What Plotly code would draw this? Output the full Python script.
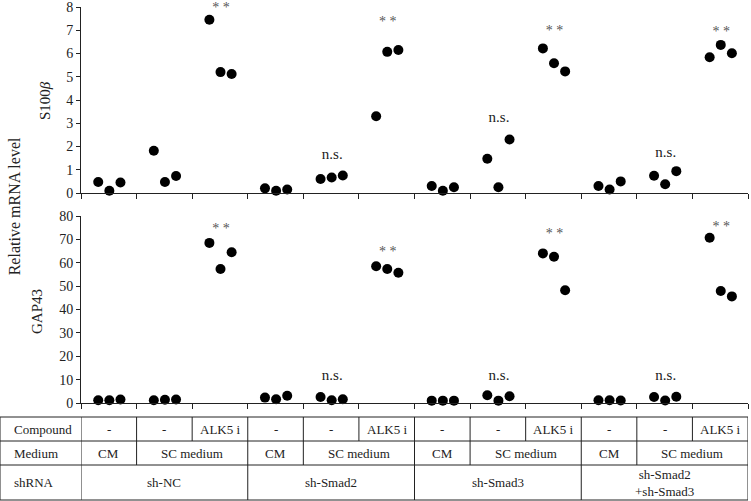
import plotly.graph_objects as go

# ---------------- data ----------------
shrna = ["sh-NC", "sh-Smad2", "sh-Smad3", "sh-Smad2<br>+sh-Smad3"]
medium = ["CM", "SC medium", "SC medium"]
compound = ["-", "-", "ALK5 i"]

s100b = [[0.47, 0.10, 0.45], [1.82, 0.47, 0.73], [7.45, 5.20, 5.12],
         [0.20, 0.10, 0.15], [0.60, 0.67, 0.75], [3.30, 6.07, 6.15],
         [0.30, 0.10, 0.25], [1.47, 0.25, 2.30], [6.22, 5.58, 5.23],
         [0.30, 0.15, 0.50], [0.74, 0.38, 0.94], [5.84, 6.37, 6.01]]
gap43 = [[1.2, 1.2, 1.5], [1.2, 1.4, 1.5], [68.5, 57.3, 64.5],
         [2.3, 1.6, 3.1], [2.6, 1.2, 1.6], [58.5, 57.3, 55.7],
         [1.0, 1.0, 1.0], [3.3, 1.0, 2.9], [64.0, 62.6, 48.2],
         [1.2, 1.2, 1.1], [2.6, 1.1, 2.7], [70.7, 47.9, 45.6]]

# significance labels: group index, label, y value
sig_top_g = [2, 4, 5, 7, 8, 10, 11]
sig_top_lab = ["* *", "n.s.", "* *", "n.s.", "* *", "n.s.", "* *"]
sig_top_y = [7.95, 1.62, 7.33, 3.2, 6.93, 1.71, 6.9]
sig_bot_g = [2, 4, 5, 7, 8, 10, 11]
sig_bot_lab = ["* *", "n.s.", "* *", "n.s.", "* *", "n.s.", "* *"]
sig_bot_y = [74.3, 11.3, 64.4, 11.3, 72.2, 11.3, 75.3]

offsets = [0.31, 0.51, 0.71]
FONT = "Liberation Serif"
TXT = "#222222"
LINE = "#222222"

# ---------------- figure ----------------
fig = go.Figure()

xs, ys_top, ys_bot = [], [], []
for g in range(12):
    for k in range(3):
        xs.append(g + offsets[k])
        ys_top.append(s100b[g][k])
        ys_bot.append(gap43[g][k])

mk = dict(color="black", size=10, line=dict(width=0))
fig.add_trace(go.Scatter(x=xs, y=ys_top, mode="markers", marker=mk,
                         xaxis="x2", yaxis="y2", cliponaxis=False, showlegend=False))
fig.add_trace(go.Scatter(x=xs, y=ys_bot, mode="markers", marker=mk,
                         xaxis="x", yaxis="y", cliponaxis=False, showlegend=False))

def sig_trace(gs, labs, yv, xa, ya):
    colors = ["#555555" if l != "n.s." else TXT for l in labs]
    sizes = [14 if l != "n.s." else 15 for l in labs]
    return go.Scatter(x=[g + 0.52 for g in gs], y=yv, text=labs, mode="text",
                      textposition="middle center",
                      textfont=dict(family=FONT, size=sizes, color=colors),
                      xaxis=xa, yaxis=ya, cliponaxis=False, showlegend=False, hoverinfo="skip")

fig.add_trace(sig_trace(sig_top_g, sig_top_lab, sig_top_y, "x2", "y2"))
fig.add_trace(sig_trace(sig_bot_g, sig_bot_lab, sig_bot_y, "x", "y"))

annotations = []
def ann(**kw):
    base = dict(showarrow=False, xanchor="center", yanchor="middle")
    base.update(kw)
    annotations.append(base)

# ---------------- geometry ----------------
PW, ML = 667, 81
T_PIX, B_PIX = 7, 403
H_PLOT = B_PIX - T_PIX
def py(p):
    return (B_PIX - p) / H_PLOT

# axis titles
ann(x=-0.054, y=py(100), xref="paper", yref="paper", text="S100<i>β</i>",
    textangle=-90, font=dict(family=FONT, size=15, color=TXT))
ann(x=-0.066, y=py(311), xref="paper", yref="paper", text="GAP43",
    textangle=-90, font=dict(family=FONT, size=15, color=TXT))
ann(x=-0.1, y=py(206), xref="paper", yref="paper", text="Relative mRNA level",
    textangle=-90, font=dict(family=FONT, size=16, color=TXT))

# ---------------- table ----------------
rows = [py(417), py(441), py(465), py(500)]
left = -ML / PW
shapes = []
ln = dict(color=LINE, width=1)
for r in rows:
    shapes.append(dict(type="line", xref="paper", yref="paper", x0=left, x1=1, y0=r, y1=r, line=ln))
shapes.append(dict(type="line", xref="paper", yref="paper", x0=left, x1=left, y0=rows[0], y1=rows[3], line=ln))
for b in range(13):
    shapes.append(dict(type="line", xref="x", yref="paper", x0=b, x1=b, y0=rows[0], y1=rows[1], line=ln))
for b in range(13):
    if b % 3 in (0, 1) or b == 12:
        shapes.append(dict(type="line", xref="x", yref="paper", x0=b, x1=b, y0=rows[1], y1=rows[2], line=ln))
for b in range(0, 13, 3):
    shapes.append(dict(type="line", xref="x", yref="paper", x0=b, x1=b, y0=rows[2], y1=rows[3], line=ln))

tf = dict(family=FONT, size=13, color=TXT)
row_c = [(rows[0] + rows[1]) / 2, (rows[1] + rows[2]) / 2, (rows[2] + rows[3]) / 2]
for lab, yc in zip(["Compound", "Medium", "shRNA"], row_c):
    ann(x=(12 - ML) / PW, y=yc, xref="paper", yref="paper", text=lab, xanchor="left", font=tf)
for s in range(4):
    for c in range(3):
        ann(x=3 * s + c + 0.5, y=row_c[0], xref="x", yref="paper", text=compound[c], font=tf)
    ann(x=3 * s + 0.5, y=row_c[1], xref="x", yref="paper", text=medium[0], font=tf)
    ann(x=3 * s + 2.0, y=row_c[1], xref="x", yref="paper", text=medium[1], font=tf)
    ann(x=3 * s + 1.5, y=row_c[2], xref="x", yref="paper", text=shrna[s], font=tf)

xax = dict(range=[0, 12], tickvals=list(range(13)), ticks="outside", ticklen=5, tickcolor=LINE,
           showticklabels=False, showline=True, linecolor=LINE, linewidth=1,
           showgrid=False, zeroline=False, domain=[0, 1], automargin=False)
yax_common = dict(ticks="outside", ticklen=4, tickcolor=LINE, showline=True, linecolor=LINE,
                  linewidth=1, showgrid=False, zeroline=False, automargin=False,
                  ticklabeloverflow="allow",
                  tickfont=dict(family=FONT, size=14, color=TXT))

fig.update_layout(
    width=751, height=501,
    margin=dict(l=81, r=3, t=T_PIX, b=501 - B_PIX),
    paper_bgcolor="white", plot_bgcolor="white",
    xaxis=dict(**xax, anchor="y"),
    xaxis2=dict(**xax, anchor="y2"),
    yaxis=dict(**yax_common, domain=[0, py(216)], range=[0, 80], dtick=10, anchor="x"),
    yaxis2=dict(**yax_common, domain=[py(193), 1], range=[0, 8], dtick=1, anchor="x2"),
    annotations=annotations,
    shapes=shapes,
    showlegend=False,
)

fig.write_html("out.html")
